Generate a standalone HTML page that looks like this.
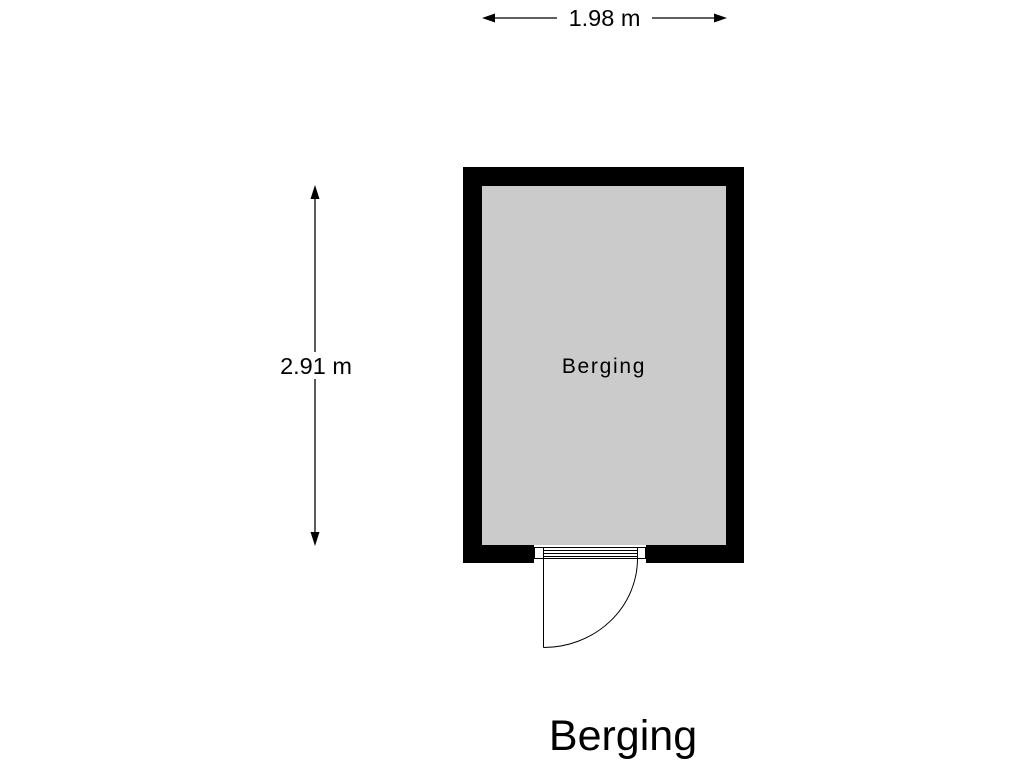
<!DOCTYPE html>
<html><head><meta charset="utf-8"><style>
html,body{margin:0;padding:0;background:#fff;}
svg{display:block;}
text{font-family:"Liberation Sans",Arial,sans-serif;fill:#000;}
</style></head><body>
<svg width="1024" height="768" viewBox="0 0 1024 768" xmlns="http://www.w3.org/2000/svg">
<rect x="463" y="167" width="281" height="396" fill="#000"/>
<rect x="482" y="186" width="244" height="359" fill="#cbcbcb"/>
<rect x="534" y="545" width="112" height="18" fill="#fff"/>
<g fill="none" stroke="#000" stroke-width="1">
<rect x="534.5" y="547.5" width="111" height="11"/>
<line x1="543.5" y1="547.5" x2="543.5" y2="558.5"/>
<line x1="637.5" y1="547.5" x2="637.5" y2="558.5"/>
<line x1="543.5" y1="550.5" x2="637.5" y2="550.5"/>
<line x1="543.5" y1="553.5" x2="637.5" y2="553.5"/>
<line x1="543.5" y1="556.5" x2="637.5" y2="556.5"/>
<line x1="543.5" y1="558.5" x2="543.5" y2="647.5"/>
<path d="M543.5 647.5 A94 89 0 0 0 637.5 558.5"/>
</g>
<g stroke="#000" stroke-width="1.3">
<line x1="488" y1="18" x2="557" y2="18"/>
<line x1="652" y1="18" x2="721" y2="18"/>
<line x1="315" y1="192" x2="315" y2="352"/>
<line x1="315" y1="379" x2="315" y2="540"/>
</g>
<polygon points="482,18 495,13.5 495,22.5" fill="#000"/>
<polygon points="727,18 714,13.5 714,22.5" fill="#000"/>
<polygon points="315,185 310.5,199 319.5,199" fill="#000"/>
<polygon points="315,546 310.5,532 319.5,532" fill="#000"/>
<text x="604.5" y="26" font-size="23.5" text-anchor="middle">1.98 m</text>
<text x="316" y="374" font-size="23.5" text-anchor="middle">2.91 m</text>
<text x="604" y="373" font-size="21" letter-spacing="1.7" text-anchor="middle">Berging</text>
<text x="623" y="750" font-size="43" text-anchor="middle">Berging</text>
</svg>
</body></html>
